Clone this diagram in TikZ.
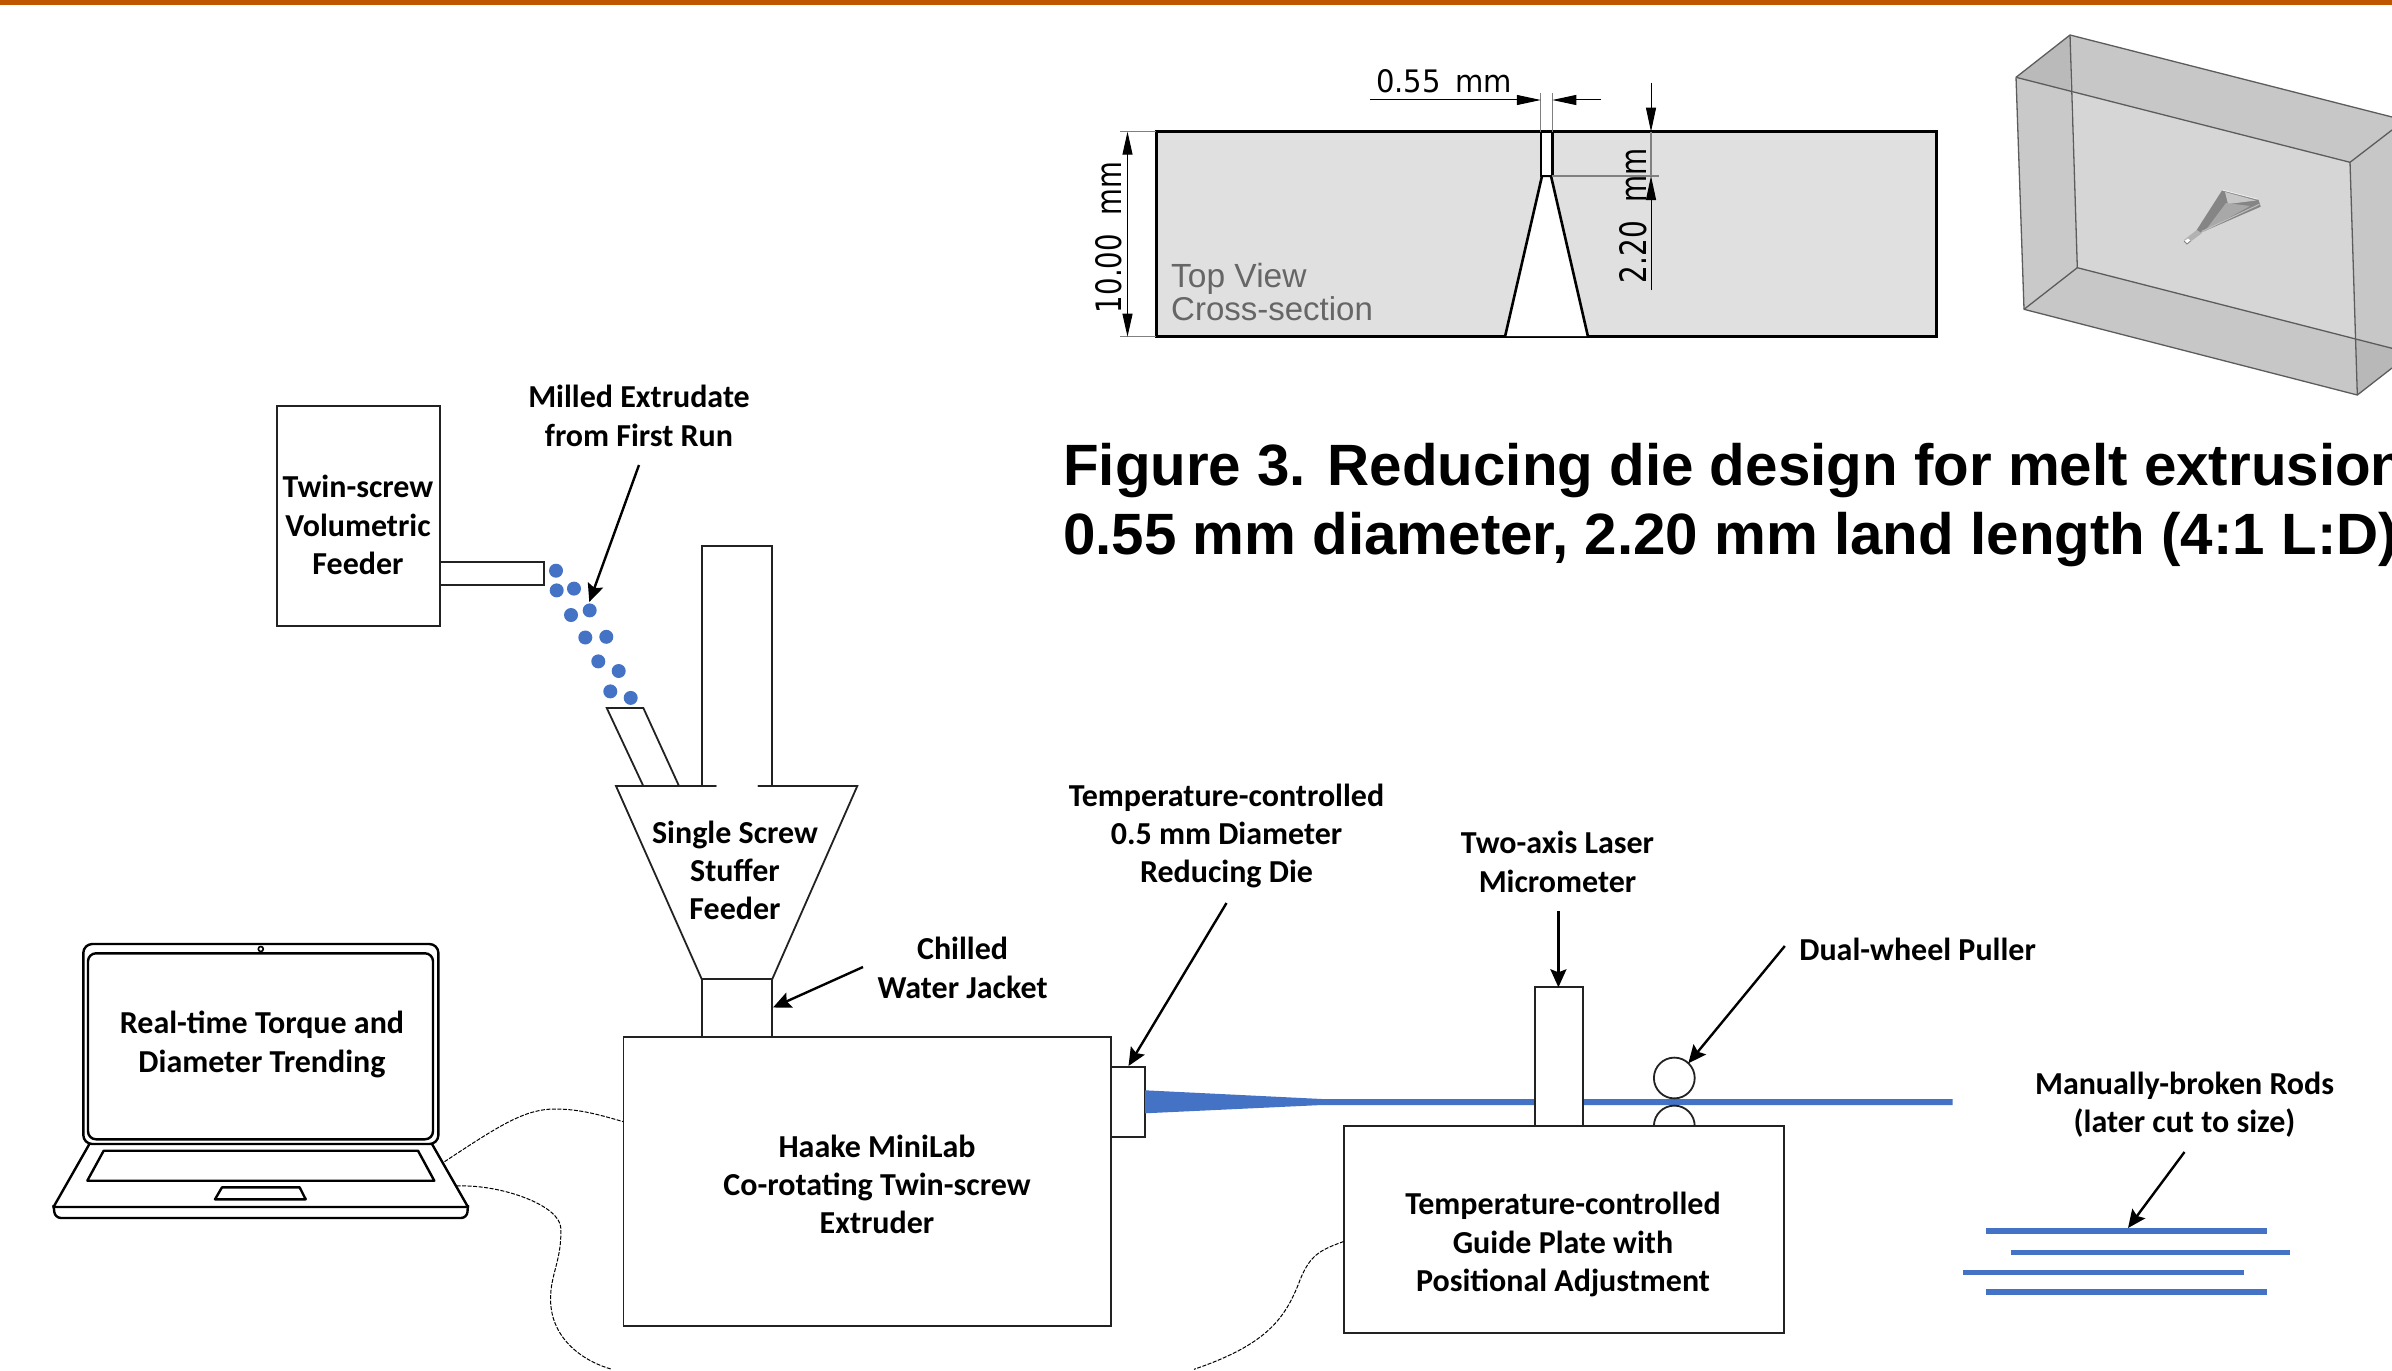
\documentclass[tikz,border=0pt]{standalone}
\usepackage{fontspec}
\setmainfont{Carlito}
\newfontfamily\arf{Liberation Sans}
\newfontfamily\djf{DejaVu Sans}
\usetikzlibrary{arrows.meta}
\definecolor{barc}{HTML}{C05500}
\definecolor{dotc}{HTML}{4472C4}
\definecolor{edgec}{HTML}{222222}
\definecolor{blk}{HTML}{5C5C5C}
\tikzset{
  plain/.style={draw=edgec,line width=1.8pt,fill=white,inner sep=0pt,outer sep=0pt},
  lab/.style={font=\fontsize{32}{38.3}\selectfont\bfseries,align=center,inner sep=0pt,text=black},
  pointer/.style={draw=black,line width=2.4pt,-{Stealth[length=18pt,width=16pt,inset=3pt]}},
  dimline/.style={draw=black,line width=1pt},
  dimext/.style={draw=gray,line width=1.2pt},
  dimtip/.style={{Triangle[length=23pt,width=10pt]}-{Triangle[length=23pt,width=10pt]}},
  dimend/.style={-{Triangle[length=24pt,width=10pt]}},
  die/.style={draw=black,line width=3pt,line join=miter},
  cable/.style={draw=black,line width=1pt,dash pattern=on 4pt off 1.5pt},
  rod/.style={draw=dotc,line width=5.5pt},
  pellet/.style={circle,fill=dotc,minimum size=14pt,inner sep=0pt},
  lap/.style={draw=black,line width=2.4pt,line join=round},
  wire/.style={draw=blk,line width=1.3pt,line join=round},
  diedim/.style={inner sep=0pt,text=black},
}
\newcommand{\boxn}[5]{\node[plain,minimum width={(#4-#2)*1pt},minimum height={(#5-#3)*1pt}] (#1) at ({(#2+#4)/2},{(#3+#5)/2}) {};}
\begin{document}
\begin{tikzpicture}[x=1pt,y=-1pt]
\useasboundingbox (0,0) rectangle (2392,1370);
\clip (0,0) rectangle (2392,1370);
\fill[white] (0,0) rectangle (2392,1370);
\fill[barc] (0,0) rectangle (2392,5.5);

% ---- die cross-section
\draw[die,fill=black!12] (1156.2,131.7) rectangle (1936,336.7);
\path[fill=white] (1541,178) -- (1552,178) -- (1588,336) -- (1505,336) -- cycle;
\path[fill=white] (1541,133) rectangle (1552,177);
\draw[die,line width=2.6pt] (1540.8,131.7) -- (1540.8,176) -- (1552.3,176) -- (1552.3,131.7);
\draw[die,line width=2.6pt] (1505,336.7) -- (1542,176);
\draw[die,line width=2.6pt] (1588,336.7) -- (1551,176);
\coordinate (ea) at (1540.8,93); \coordinate (eb) at (1540.8,131.7);
\coordinate (ec) at (1552.3,93); \coordinate (ed) at (1552.3,131.7);
\draw[dimext] (ea) -- (eb); \draw[dimext] (ec) -- (ed);
\coordinate (wa) at (1370.3,100); \coordinate (wb) at (1540.8,100);
\coordinate (wc) at (1601,100); \coordinate (wd) at (1552.3,100);
\draw[dimline,dimend] (wa) -- (wb);
\draw[dimline,dimend] (wc) -- (wd);
\node[diedim,anchor=south west] (t055) at (1376,93) {\resizebox{136pt}{23pt}{\djf 0.55\,\,\,mm}};
\coordinate (ha) at (1127.5,131.7); \coordinate (hb) at (1127.5,336.7);
\coordinate (hc) at (1120,131.7); \coordinate (hd) at (1156,131.7);
\coordinate (he) at (1120,336.7); \coordinate (hf) at (1156,336.7);
\draw[dimext] (hc) -- (hd); \draw[dimext] (he) -- (hf);
\draw[dimline,dimtip] (ha) -- (hb);
\node[diedim,rotate=90] (t10) at (1109,237.5) {\resizebox{151pt}{26pt}{\djf 10.00\,\,\,\,mm}};
\coordinate (la) at (1651,82.7); \coordinate (lb) at (1651,131.7);
\coordinate (lc) at (1651,290); \coordinate (ld) at (1651,176);
\coordinate (le) at (1552,176); \coordinate (lf) at (1658.5,176);
\draw[dimext] (le) -- (lf);
\draw[dimline,dimend] (la) -- (lb);
\draw[dimline,dimend] (lc) -- (ld);
\draw[dimext] (lb) -- (ld);
\node[diedim,rotate=90] (t22) at (1633,215.5) {\resizebox{135pt}{27pt}{\djf 2.20\,\,\,\,mm}};
\node[anchor=base west,inner sep=0pt,text=black!60,font=\fontsize{33.5}{33}\selectfont\arf] (tv) at (1171,287) {Top View};
\node[anchor=base west,inner sep=0pt,text=black!60,font=\fontsize{33}{33}\selectfont\arf] (cs) at (1171,320) {Cross-section};

% ---- 3D block
\fill[black!16] (2070.7,91.7) -- (2350,162.3) -- (2355.7,338.3) -- (2077.3,267.7) -- cycle;
\fill[black!22] (2070,35) -- (2392,117) -- (2392,130) -- (2350,162.3) -- (2070.7,91.7) -- cycle;
\fill[black!21] (2016,77.3) -- (2070.7,91.7) -- (2077.3,267.7) -- (2024,309.3) -- cycle;
\fill[black!27] (2016,77.3) -- (2070,35) -- (2070.7,91.7) -- cycle;
\fill[black!22] (2024,309.3) -- (2077.3,267.7) -- (2355.7,338.3) -- (2357.3,395) -- cycle;
\fill[black!22] (2350,162.3) -- (2392,130) -- (2392,348.3) -- (2355.7,338.3) -- cycle;
\fill[black!28] (2355.7,338.3) -- (2392,348.3) -- (2392,368) -- (2357.3,395) -- cycle;
\draw[wire] (2016,77.3) -- (2070,35) -- (2392,117);
\draw[wire] (2016,77.3) -- (2350,162.3) -- (2392,130);
\draw[wire] (2016,77.3) -- (2024,309.3) -- (2357.3,395) -- (2350,162.3);
\draw[wire] (2070,35) -- (2077.3,267.7) -- (2392,348.3);
\draw[wire] (2024,309.3) -- (2077.3,267.7);
\draw[wire] (2357.3,395) -- (2392,368);
% cone inside the block
\fill[black!48] (2222.3,190) -- (2258.3,199.3) -- (2260.7,206.7) -- (2200,233) -- (2196.7,230) -- cycle;
\fill[black!22] (2225,192) -- (2256,200.5) -- (2228,204) -- cycle;
\fill[black!34] (2226,203) -- (2250,206) -- (2205,231) -- cycle;
\draw[draw=black!25,line width=1pt] (2259.3,204.3) -- (2201.7,231.5);
\draw[draw=black!8,line width=1pt] (2222.3,190) -- (2258.3,199.3);
\fill[black!30] (2184,240) -- (2196.7,230) -- (2201.7,233.3) -- (2188.3,243.3) -- cycle;
\fill[white] (2184.5,241) -- (2188,238.5) -- (2190.5,241) -- (2187,243.8) -- cycle;
\draw[draw=black!50,line width=.8pt] (2184,241) -- (2187,244) -- (2190.5,241);

% ---- title
\node[anchor=base west,inner sep=0pt,font=\fontsize{58.3}{70}\selectfont\arf\bfseries] (title1) at (1063,485) {Figure 3. Reducing die design for melt extrusion};
\node[anchor=base west,inner sep=0pt,font=\fontsize{58.3}{70}\selectfont\arf\bfseries] (title2) at (1063,554) {0.55 mm diameter, 2.20 mm land length (4:1 L:D)};

% ---- feeder
\boxn{twin}{276.7}{406}{440.3}{626}
\node[lab] at (358,525) {Twin-screw\\Volumetric\\Feeder};
\boxn{tube}{440.3}{561.7}{544}{585}
\foreach \nm/\px/\py in {p1/556/570.7,p2/556.7/590.4,p3/574/588.6,p4/589.7/610.4,p5/571/615,p6/585.3/637.5,p7/606.3/636.8,p8/598.3/661.4,p9/618.7/671,p10/610.3/691.4,p11/630.7/697.9}
  \node[pellet] (\nm) at (\px,\py) {};
\draw[plain] (606.7,707.9) -- (643.3,707.9) -- (679,786) -- (643.3,786) -- cycle;
\boxn{tall}{702}{545.7}{772.3}{786}
\fill[white] (703,775) rectangle (771.4,790);
\draw[plain] (702,775) -- (702,786);
\draw[plain] (772.3,775) -- (772.3,786);
\path[fill=white] (616,786) -- (857.3,786) -- (772.3,979) -- (701.7,979) -- cycle;
\draw[plain,line cap=round,line join=miter,fill=none] (716,786) -- (616,786) -- (701.7,979) -- (772.3,979) -- (857.3,786) -- (758.3,786);
\node[lab] (stuffer) at (735,870.5) {Single Screw\\Stuffer\\Feeder};
\boxn{jacket}{702}{979}{772.3}{1037}
\boxn{extr}{623.5}{1037}{1111}{1326}
\node[lab] at (877,1184.5) {Haake MiniLab\\Co-rotating Twin-screw\\Extruder};
\boxn{diebox}{1111}{1066.7}{1145}{1137.3}

% ---- strand
\path[fill=dotc] (1145,1090.3) -- (1322,1099) -- (1952.6,1099) -- (1952.6,1105) -- (1322,1105) -- (1145,1113.3) -- cycle;
\node[plain,circle,minimum width=40.8pt] (wheelA) at (1674.3,1078) {};
\node[plain,circle,minimum width=40.8pt] (wheelB) at (1674.3,1126) {};
\boxn{mic}{1534.7}{987.3}{1582.7}{1130}
\boxn{plate}{1343.7}{1125.7}{1784.3}{1333.3}
\node[lab] at (1563,1244.5) {Temperature-controlled\\Guide Plate with\\Positional Adjustment};

% ---- rods
\foreach \nm/\xa/\xb/\yy in {r1/1986/2267/1231,r2/2010.6/2290/1252.4,r3/1963/2244/1272.3,r4/1986/2267/1292}{
  \coordinate (\nm a) at (\xa,\yy); \coordinate (\nm b) at (\xb,\yy);
  \draw[rod] (\nm a) -- (\nm b);
}

% ---- laptop
\draw[lap,fill=white,rounded corners=9pt] (83.3,944) rectangle (438.4,1144);
\draw[lap,fill=white,rounded corners=8pt] (88,953.3) rectangle (433,1139.3);
\node[draw=black,line width=1.6pt,circle,minimum size=5pt,inner sep=0pt] (cam) at (260.8,949) {};
\draw[lap] (89.4,1144) -- (53.5,1207) -- (468,1207) -- (432,1144);
\draw[lap,rounded corners=6pt] (53.5,1205) -- (55,1218) -- (467,1218) -- (468,1205);
\draw[lap] (103.7,1150.7) -- (418,1150.7) -- (434.3,1180.7) -- (87.3,1180.7) -- cycle;
\draw[lap] (222,1187.3) -- (299.6,1187.3) -- (305.7,1199.3) -- (215,1199.3) -- cycle;
\node[lab] (screen) at (262,1044.5) {Real-time Torque and\\Diameter Trending};

% ---- cables
\coordinate (c1a) at (444.5,1161.7);
\draw[cable] (c1a) .. controls (500,1125) and (525,1109) .. (555,1109) .. controls (580,1109) and (600,1115) .. (623.5,1121.7);
\coordinate (c2a) at (456.7,1186);
\coordinate (c2e) at (612,1369.3);
\draw[cable] (c2a) .. controls (500,1184) and (560,1205) .. (560.8,1228) .. controls (562,1260) and (550,1275) .. (550.6,1300) .. controls (551,1340) and (585,1362) .. (c2e);
\coordinate (c3e) at (1194,1369.3);
\draw[cable] (plate.west) ++(0,12) .. controls (1320,1250) and (1310,1255) .. (1300,1280) .. controls (1285,1320) and (1265,1345) .. (c3e);

% ---- labels and pointers
\node[lab] (milled) at (639,416) {Milled Extrudate\\from First Run};
\coordinate (ms) at (639,465); \coordinate (mt) at (589.3,602);
\draw[pointer] (ms) -- (mt);
\node[lab] (chill) at (962.6,968) {Chilled\\Water Jacket};
\coordinate (cs1) at (863,967); \coordinate (ct1) at (773,1007.5);
\draw[pointer] (cs1) -- (ct1);
\node[lab] (tcd) at (1226.5,836) {Temperature-controlled\\0.5 mm Diameter\\Reducing Die};
\coordinate (ds) at (1226.5,903); \coordinate (dt) at (1128.5,1066);
\draw[pointer] (ds) -- (dt);
\node[lab] (laser) at (1557.5,862) {Two-axis Laser\\Micrometer};
\coordinate (ls) at (1558.4,911); \coordinate (lt) at (1558.4,987.3);
\draw[pointer] (ls) -- (lt);
\node[lab] (puller) at (1917.6,949) {Dual-wheel Puller};
\coordinate (ps) at (1784.8,946); \coordinate (pt) at (1688.3,1063.3);
\draw[pointer] (ps) -- (pt);
\node[lab] (manual) at (2184.5,1105) {Manually-broken Rods\\(later cut to size)};
\coordinate (rs) at (2184.5,1152); \coordinate (rt) at (2128,1228);
\draw[pointer] (rs) -- (rt);
\end{tikzpicture}
\end{document}
